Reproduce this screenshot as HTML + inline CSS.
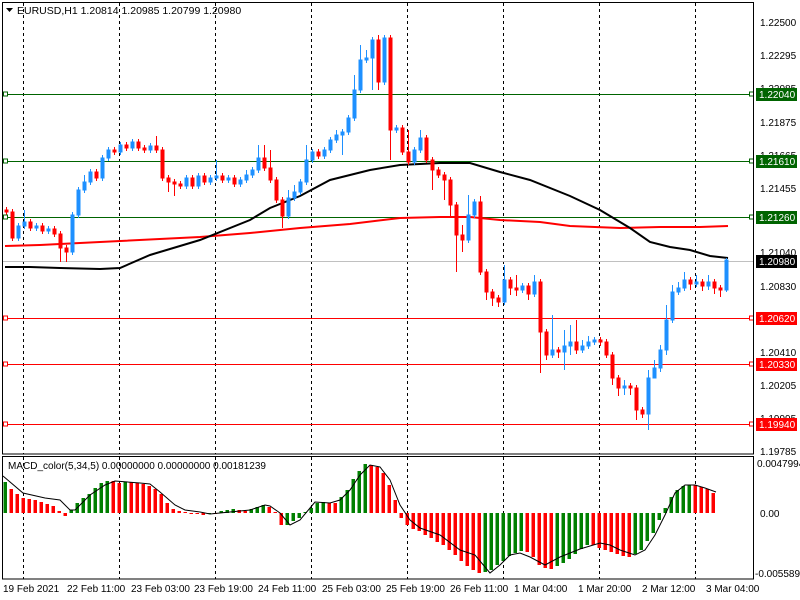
<!DOCTYPE html>
<html><head><meta charset="utf-8"><style>
html,body{margin:0;padding:0;background:#fff;width:800px;height:600px;overflow:hidden}
svg{display:block;font-family:"Liberation Sans",sans-serif}
</style></head><body>
<svg width="800" height="600" xmlns="http://www.w3.org/2000/svg">
<rect x="0" y="0" width="800" height="600" fill="#fff"/>
<g stroke="#000" stroke-dasharray="3,3">
<path d="M23.5 3V454M119.5 3V454M215.5 3V454M311.5 3V454M407.5 3V454M503.5 3V454M599.5 3V454M695.5 3V454"/>
<path d="M23.5 457V579M119.5 457V579M215.5 457V579M311.5 457V579M407.5 457V579M503.5 457V579M599.5 457V579M695.5 457V579"/>
</g>
<line x1="3" y1="261.5" x2="753" y2="261.5" stroke="#c0c0c0"/>
<g stroke="#006400"><path d="M3 94.5H753M3 161.5H753M3 217.5H753"/></g>
<g stroke="#f00"><path d="M3 318.5H753M3 364.5H753M3 424.5H753"/></g>
<polyline fill="none" stroke="#f00" stroke-width="2" points="5,246 40,245 100,242 200,237 250,233 300,228 350,224 400,218 440,217 470,217 480,218 500,220 540,222 570,226 620,228 660,227 700,227 728,226"/>
<polyline fill="none" stroke="#000" stroke-width="2" points="5,267 30,267 60,268 100,269 120,268 150,255 200,240 250,220 270,208 300,196 330,180 370,170 400,165 420,164 440,163 470,163 500,172 530,180 570,196 600,210 630,228 650,242 670,247 690,250 710,256 728,258"/>
<path fill="#f00" stroke="#f00" d="M6.5 207V215M5 210h3V212h-3ZM12.5 209V241M11 212h3V238h-3ZM30.5 219V231M29 222h3V228h-3ZM42.5 223V234M41 226h3V231h-3ZM54.5 226V237M53 229h3V234h-3ZM60.5 231V262M59 234h3V248h-3ZM66.5 245V262M65 248h3V252h-3ZM96.5 169V181M95 172h3V178h-3ZM114.5 147V155M113 150h3V152h-3ZM126.5 142V151M125 145h3V148h-3ZM138.5 139V151M137 142h3V148h-3ZM144.5 145V153M143 148h3V150h-3ZM156.5 136V153M155 146h3V150h-3ZM162.5 147V181M161 150h3V178h-3ZM168.5 175V192M167 178h3V182h-3ZM174.5 179V196M173 182h3V184h-3ZM180.5 181V189M179 184h3V186h-3ZM192.5 175V189M191 178h3V186h-3ZM204.5 173V185M203 176h3V182h-3ZM222.5 173V183M221 176h3V180h-3ZM234.5 175V187M233 178h3V184h-3ZM264.5 145V171M263 158h3V168h-3ZM270.5 150V183M269 168h3V180h-3ZM276.5 177V203M275 180h3V200h-3ZM282.5 197V228M281 200h3V216h-3ZM318.5 149V159M317 152h3V156h-3ZM378.5 35V90M377 40h3V82h-3ZM390.5 35V160M389 38h3V130h-3ZM402.5 125V155M401 128h3V152h-3ZM408.5 130V165M407 152h3V162h-3ZM426.5 135V163M425 138h3V160h-3ZM432.5 157V190M431 160h3V170h-3ZM438.5 167V178M437 170h3V175h-3ZM444.5 172V200M443 175h3V180h-3ZM450.5 177V218M449 180h3V205h-3ZM456.5 202V272M455 205h3V235h-3ZM462.5 225V252M461 235h3V240h-3ZM480.5 196V275M479 202h3V272h-3ZM486.5 269V300M485 272h3V292h-3ZM492.5 289V306M491 292h3V298h-3ZM498.5 295V307M497 298h3V302h-3ZM510.5 277V295M509 280h3V288h-3ZM516.5 275V296M515 288h3V290h-3ZM528.5 283V300M527 286h3V294h-3ZM540.5 279V373M539 282h3V332h-3ZM546.5 329V360M545 332h3V355h-3ZM558.5 347V358M557 350h3V352h-3ZM576.5 320V354M575 342h3V350h-3ZM600.5 337V346M599 340h3V342h-3ZM606.5 339V358M605 342h3V355h-3ZM612.5 352V385M611 355h3V378h-3ZM618.5 375V396M617 378h3V388h-3ZM630.5 383V395M629 386h3V388h-3ZM636.5 385V420M635 388h3V410h-3ZM642.5 407V418M641 410h3V414h-3ZM690.5 277V290M689 280h3V284h-3ZM702.5 279V291M701 282h3V286h-3ZM714.5 279V294M713 282h3V288h-3ZM720.5 285V297M719 288h3V290h-3Z"/>
<path fill="#1e90ff" stroke="#1e90ff" d="M18.5 223V241M17 226h3V238h-3ZM24.5 210V229M23 222h3V226h-3ZM36.5 223V231M35 226h3V228h-3ZM48.5 226V234M47 229h3V231h-3ZM72.5 212V255M71 215h3V252h-3ZM78.5 187V218M77 190h3V215h-3ZM84.5 175V193M83 182h3V190h-3ZM90.5 169V185M89 172h3V182h-3ZM102.5 155V181M101 158h3V178h-3ZM108.5 147V161M107 150h3V158h-3ZM120.5 142V155M119 145h3V152h-3ZM132.5 139V151M131 142h3V148h-3ZM150.5 143V153M149 146h3V150h-3ZM186.5 175V189M185 178h3V186h-3ZM198.5 173V189M197 176h3V186h-3ZM210.5 175V185M209 178h3V182h-3ZM216.5 160V181M215 176h3V178h-3ZM228.5 175V183M227 178h3V180h-3ZM240.5 177V187M239 180h3V184h-3ZM246.5 170V183M245 175h3V180h-3ZM252.5 167V178M251 170h3V175h-3ZM258.5 145V173M257 158h3V170h-3ZM288.5 190V219M287 198h3V216h-3ZM294.5 185V201M293 192h3V198h-3ZM300.5 179V195M299 182h3V192h-3ZM306.5 145V185M305 160h3V182h-3ZM312.5 149V163M311 152h3V160h-3ZM324.5 147V159M323 150h3V156h-3ZM330.5 137V153M329 140h3V150h-3ZM336.5 130V143M335 135h3V140h-3ZM342.5 129V155M341 132h3V135h-3ZM348.5 115V135M347 118h3V132h-3ZM354.5 75V121M353 90h3V118h-3ZM360.5 45V93M359 60h3V90h-3ZM366.5 50V63M365 58h3V60h-3ZM372.5 37V90M371 40h3V58h-3ZM384.5 35V85M383 38h3V82h-3ZM396.5 125V133M395 128h3V130h-3ZM414.5 147V165M413 150h3V162h-3ZM420.5 130V153M419 138h3V150h-3ZM468.5 195V243M467 215h3V240h-3ZM474.5 199V218M473 202h3V215h-3ZM504.5 265V305M503 280h3V302h-3ZM522.5 283V293M521 286h3V290h-3ZM534.5 275V297M533 282h3V294h-3ZM552.5 315V358M551 350h3V355h-3ZM564.5 330V370M563 346h3V352h-3ZM570.5 325V355M569 342h3V346h-3ZM582.5 340V353M581 346h3V350h-3ZM588.5 336V349M587 342h3V346h-3ZM594.5 337V345M593 340h3V342h-3ZM624.5 380V395M623 386h3V388h-3ZM648.5 370V430M647 378h3V414h-3ZM654.5 360V372M653 368h3V378h-3ZM660.5 345V372M659 350h3V368h-3ZM666.5 305V355M665 320h3V350h-3ZM672.5 285V323M671 292h3V320h-3ZM678.5 282V295M677 288h3V292h-3ZM684.5 272V291M683 280h3V288h-3ZM696.5 275V287M695 282h3V284h-3ZM708.5 275V290M707 282h3V286h-3ZM726.5 258V292M725 260h3V290h-3Z"/>
<g fill="#fff" stroke="#006400"><rect x="3.5" y="92" width="4" height="4"/><rect x="3.5" y="159" width="4" height="4"/><rect x="3.5" y="215" width="4" height="4"/><rect x="749.5" y="92" width="4" height="4"/><rect x="749.5" y="159" width="4" height="4"/><rect x="749.5" y="215" width="4" height="4"/></g>
<g fill="#fff" stroke="#f00"><rect x="3.5" y="316" width="4" height="4"/><rect x="3.5" y="362" width="4" height="4"/><rect x="3.5" y="422" width="4" height="4"/><rect x="749.5" y="316" width="4" height="4"/><rect x="749.5" y="362" width="4" height="4"/><rect x="749.5" y="422" width="4" height="4"/></g>
<!-- MACD -->
<path fill="#008000" d="M3.5 513v-31h3.5v31zM69.5 513v-3h3.5v3zM75.5 513v-10h3.5v10zM81.5 513v-15h3.5v15zM87.5 513v-19h3.5v19zM93.5 513v-25h3.5v25zM99.5 513v-30h3.5v30zM105.5 513v-32h3.5v32zM123.5 513v-31h3.5v31zM207.5 513v1h3.5v-1zM219.5 513v-2h3.5v2zM225.5 513v-3h3.5v3zM231.5 513v-4h3.5v4zM249.5 513v-4h3.5v4zM255.5 513v-6h3.5v6zM261.5 513v-8h3.5v8zM285.5 513v12h3.5v-12zM291.5 513v8h3.5v-8zM297.5 513v5h3.5v-5zM303.5 513v-1h3.5v1zM309.5 513v-5h3.5v5zM315.5 513v-10h3.5v10zM321.5 513v-11h3.5v11zM339.5 513v-16h3.5v16zM345.5 513v-23h3.5v23zM351.5 513v-34h3.5v34zM357.5 513v-42h3.5v42zM363.5 513v-49h3.5v49zM483.5 513v59h3.5v-59zM489.5 513v57h3.5v-57zM495.5 513v52h3.5v-52zM501.5 513v48h3.5v-48zM507.5 513v43h3.5v-43zM513.5 513v40h3.5v-40zM519.5 513v38h3.5v-38zM555.5 513v53h3.5v-53zM561.5 513v50h3.5v-50zM567.5 513v46h3.5v-46zM573.5 513v41h3.5v-41zM579.5 513v36h3.5v-36zM585.5 513v32h3.5v-32zM633.5 513v41h3.5v-41zM639.5 513v37h3.5v-37zM645.5 513v28h3.5v-28zM651.5 513v20h3.5v-20zM657.5 513v7h3.5v-7zM663.5 513v-5h3.5v5zM669.5 513v-16h3.5v16zM675.5 513v-23h3.5v23zM681.5 513v-27h3.5v27zM687.5 513v-28h3.5v28z"/>
<path fill="#f00" d="M9.5 513v-24h3.5v24zM15.5 513v-19h3.5v19zM21.5 513v-15h3.5v15zM27.5 513v-14h3.5v14zM33.5 513v-13h3.5v13zM39.5 513v-11h3.5v11zM45.5 513v-9h3.5v9zM51.5 513v-7h3.5v7zM57.5 513v-2h3.5v2zM63.5 513v3h3.5v-3zM111.5 513v-32h3.5v32zM117.5 513v-30h3.5v30zM129.5 513v-31h3.5v31zM135.5 513v-30h3.5v30zM141.5 513v-29h3.5v29zM147.5 513v-27h3.5v27zM153.5 513v-24h3.5v24zM159.5 513v-19h3.5v19zM165.5 513v-10h3.5v10zM171.5 513v-4h3.5v4zM177.5 513v-2h3.5v2zM183.5 513v-1h3.5v1zM189.5 513v1h3.5v-1zM195.5 513v1h3.5v-1zM201.5 513v2h3.5v-2zM213.5 513v1h3.5v-1zM237.5 513v-3h3.5v3zM243.5 513v-2h3.5v2zM267.5 513v-6h3.5v6zM273.5 513v-1h3.5v1zM279.5 513v12h3.5v-12zM327.5 513v-10h3.5v10zM333.5 513v-10h3.5v10zM369.5 513v-48h3.5v48zM375.5 513v-46h3.5v46zM381.5 513v-40h3.5v40zM387.5 513v-28h3.5v28zM393.5 513v-13h3.5v13zM399.5 513v5h3.5v-5zM405.5 513v12h3.5v-12zM411.5 513v16h3.5v-16zM417.5 513v18h3.5v-18zM423.5 513v22h3.5v-22zM429.5 513v25h3.5v-25zM435.5 513v29h3.5v-29zM441.5 513v32h3.5v-32zM447.5 513v37h3.5v-37zM453.5 513v42h3.5v-42zM459.5 513v48h3.5v-48zM465.5 513v53h3.5v-53zM471.5 513v57h3.5v-57zM477.5 513v60h3.5v-60zM525.5 513v39h3.5v-39zM531.5 513v44h3.5v-44zM537.5 513v52h3.5v-52zM543.5 513v55h3.5v-55zM549.5 513v56h3.5v-56zM591.5 513v32h3.5v-32zM597.5 513v35h3.5v-35zM603.5 513v37h3.5v-37zM609.5 513v39h3.5v-39zM615.5 513v41h3.5v-41zM621.5 513v43h3.5v-43zM627.5 513v44h3.5v-44zM693.5 513v-28h3.5v28zM699.5 513v-26h3.5v26zM705.5 513v-24h3.5v24zM711.5 513v-20h3.5v20z"/>
<polyline fill="none" stroke="#000" stroke-width="1" points="3,476 23,493 45,498 60,500 70,510 75,510 90,495 105,485 115,481 140,483 150,484 160,492 175,505 185,510 200,512 210,514 250,510 265,505 270,506 280,513 290,525 300,520 310,508 315,502 330,503 340,500 350,490 360,475 370,465 380,467 390,480 400,505 410,520 420,528 440,535 460,550 475,555 490,573 500,565 510,555 520,553 530,557 545,565 560,557 580,549 600,543 610,545 620,550 635,555 645,550 655,535 665,515 675,493 685,485 695,485 705,488 716,492"/>
<rect x="2.5" y="2.5" width="751" height="451.5" fill="none" stroke="#000"/>
<rect x="2.5" y="456.5" width="751" height="122.5" fill="none" stroke="#000"/>
<path d="M6 8 L13 8 L9.5 12 Z" fill="#000"/>
<text x="17" y="14" font-size="10.5" fill="#000">EURUSD,H1  1.20814 1.20985 1.20799 1.20980</text>
<text x="8" y="469" font-size="10" fill="#000">MACD_color(5,34,5) 0.00000000 0.00000000 0.00181239</text>
<g font-size="10" fill="#000">
<text x="760" y="26">1.22500</text><text x="760" y="59">1.22295</text><text x="760" y="92">1.22085</text><text x="760" y="126">1.21875</text><text x="760" y="159">1.21665</text><text x="760" y="192">1.21455</text><text x="760" y="256">1.21040</text><text x="760" y="290">1.20830</text><text x="760" y="356">1.20410</text><text x="760" y="389">1.20205</text><text x="760" y="422">1.19995</text><text x="760" y="455">1.19785</text>
<text x="757" y="467">0.0047994</text><text x="760" y="517">0.00</text><text x="755" y="577">-0.005589</text>
</g>
<rect x="756" y="88" width="41" height="13" fill="#006400"/><rect x="756" y="155" width="41" height="13" fill="#006400"/><rect x="756" y="211" width="41" height="13" fill="#006400"/><rect x="756" y="255" width="41" height="13" fill="#000"/><rect x="756" y="312" width="41" height="13" fill="#f00"/><rect x="756" y="358" width="41" height="13" fill="#f00"/><rect x="756" y="418" width="41" height="13" fill="#f00"/>
<g font-size="10" fill="#fff">
<text x="759" y="98">1.22040</text><text x="759" y="165">1.21610</text><text x="759" y="221">1.21260</text><text x="759" y="265">1.20980</text><text x="759" y="322">1.20620</text><text x="759" y="368">1.20330</text><text x="759" y="428">1.19940</text>
</g>
<g font-size="10" fill="#000">
<text x="3" y="592">19 Feb 2021</text><text x="67" y="592">22 Feb 11:00</text><text x="131" y="592">23 Feb 03:00</text><text x="194" y="592">23 Feb 19:00</text><text x="258" y="592">24 Feb 11:00</text><text x="322" y="592">25 Feb 03:00</text><text x="386" y="592">25 Feb 19:00</text><text x="450" y="592">26 Feb 11:00</text><text x="514" y="592">1 Mar 04:00</text><text x="578" y="592">1 Mar 20:00</text><text x="642" y="592">2 Mar 12:00</text><text x="706" y="592">3 Mar 04:00</text>
</g>
</svg>
</body></html>
